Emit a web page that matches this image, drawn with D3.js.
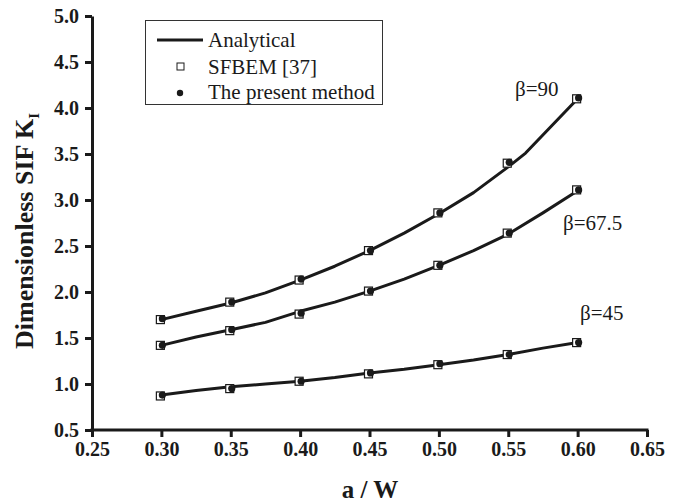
<!DOCTYPE html>
<html><head><meta charset="utf-8">
<script src="https://cdn.jsdelivr.net/npm/d3@7"></script>
<style>
html,body{margin:0;padding:0;background:#fff;}
svg text{font-family:"Liberation Serif","Times New Roman",serif;fill:#1a1a1a;}
</style></head>
<body>
<svg id="chart" width="685" height="504"></svg>
<script>
// ---- data ----
const xPoints = [0.30, 0.35, 0.40, 0.45, 0.50, 0.55, 0.60];
const sfbem90  = [1.70, 1.89, 2.13, 2.45, 2.86, 3.40, 4.10];
const sfbem675 = [1.42, 1.58, 1.76, 2.01, 2.29, 2.64, 3.11];
const sfbem45  = [0.87, 0.95, 1.03, 1.11, 1.21, 1.32, 1.45];
const present90  = [1.71, 1.89, 2.14, 2.45, 2.86, 3.41, 4.11];
const present675 = [1.42, 1.59, 1.77, 2.01, 2.29, 2.64, 3.11];
const present45  = [0.88, 0.95, 1.03, 1.12, 1.22, 1.32, 1.45];
const xAnalytical90 = [0.30, 0.325, 0.35, 0.375, 0.40, 0.425, 0.45, 0.475, 0.50, 0.525, 0.55, 0.5625, 0.60];
const analytical90  = [1.70, 1.79, 1.88, 1.99, 2.13, 2.28, 2.45, 2.64, 2.85, 3.08, 3.36, 3.51, 4.10];
const xAnalytical = [0.30, 0.325, 0.35, 0.375, 0.40, 0.425, 0.45, 0.475, 0.50, 0.525, 0.55, 0.575, 0.60];
const analytical675 = [1.42, 1.51, 1.59, 1.67, 1.79, 1.89, 2.01, 2.14, 2.29, 2.45, 2.63, 2.86, 3.10];
const analytical45  = [0.88, 0.93, 0.97, 1.00, 1.03, 1.07, 1.12, 1.16, 1.21, 1.26, 1.32, 1.39, 1.45];
const seriesLabels = ["β=90", "β=67.5", "β=45"];
const xTicks = [0.25, 0.30, 0.35, 0.40, 0.45, 0.50, 0.55, 0.60, 0.65];
const yTicks = [0.5, 1.0, 1.5, 2.0, 2.5, 3.0, 3.5, 4.0, 4.5, 5.0];
const legendLabels = ["Analytical", "SFBEM [37]", "The present method"];

// ---- layout ----
const FONT = "'Liberation Serif','Times New Roman',serif";
const svg = d3.select("#chart");
const x = d3.scaleLinear().domain([0.25, 0.65]).range([92, 647]);
const y = d3.scaleLinear().domain([0.5, 5.0]).range([430, 16]);

// axes
const xAxis = svg.append("g").attr("transform", "translate(0,430)")
  .call(d3.axisBottom(x).tickValues(xTicks).tickFormat(d3.format(".2f")).tickSize(7).tickSizeOuter(0));
const yAxis = svg.append("g").attr("transform", "translate(92,0)")
  .call(d3.axisLeft(y).tickValues(yTicks).tickFormat(d3.format(".1f")).tickSize(7).tickSizeOuter(0));
[xAxis, yAxis].forEach(g => {
  g.select(".domain").attr("stroke", "#1a1a1a").attr("stroke-width", 3);
  g.selectAll(".tick line").attr("stroke", "#1a1a1a").attr("stroke-width", 3);
  g.selectAll(".tick text").attr("font-family", FONT)
    .attr("font-size", 20).attr("font-weight", "bold").attr("fill", "#1a1a1a");
});
xAxis.selectAll(".tick text").attr("dy", "0.71em").attr("y", 12);
yAxis.selectAll(".tick text").attr("x", -13);
xAxis.select(".domain").attr("d", `M${92 - 1.5},0H${647 + 1.5}`);

// axis titles
svg.append("text").attr("x", 370).attr("y", 498).attr("text-anchor", "middle")
  .attr("font-family", FONT).attr("font-size", 25).attr("font-weight", "bold").text("a / W");
const yt = svg.append("text").attr("transform", "translate(33,231) rotate(-90)")
  .attr("text-anchor", "middle").attr("font-family", FONT).attr("font-size", 26).attr("font-weight", "bold");
yt.append("tspan").text("Dimensionless SIF K");
yt.append("tspan").attr("font-size", 15).attr("dy", 6).text("I");

// analytical lines
const line = d3.line().x(d => x(d[0])).y(d => y(d[1]));
const analyticalSets = [
  d3.zip(xAnalytical90, analytical90),
  d3.zip(xAnalytical, analytical675),
  d3.zip(xAnalytical, analytical45)
];
analyticalSets.forEach(s => {
  svg.append("path").attr("d", line(s)).attr("fill", "none")
    .attr("stroke", "#1a1a1a").attr("stroke-width", 3).attr("stroke-linejoin", "round");
});

// markers
const sfbemSets = [sfbem90, sfbem675, sfbem45];
const presentSets = [present90, present675, present45];
sfbemSets.forEach(vals => {
  svg.selectAll(null).data(d3.zip(xPoints, vals)).join("rect")
    .attr("x", d => x(d[0]) - 5).attr("y", d => y(d[1]) - 4)
    .attr("width", 8).attr("height", 8)
    .attr("fill", "#fff").attr("stroke", "#1a1a1a").attr("stroke-width", 1.2);
});
presentSets.forEach(vals => {
  svg.selectAll(null).data(d3.zip(xPoints, vals)).join("circle")
    .attr("cx", d => x(d[0]) + 1).attr("cy", d => y(d[1]))
    .attr("r", 3.6).attr("fill", "#1a1a1a");
});

// series labels
const labelPos = [[515, 96], [563, 230], [580, 320]];
seriesLabels.forEach((t, i) => {
  svg.append("text").attr("x", labelPos[i][0]).attr("y", labelPos[i][1])
    .attr("font-family", FONT).attr("font-size", 21).text(t);
});

// legend
const lg = svg.append("g");
lg.append("rect").attr("x", 145.5).attr("y", 20.5).attr("width", 237).attr("height", 84)
  .attr("fill", "#fff").attr("stroke", "#333").attr("stroke-width", 1);
lg.append("line").attr("x1", 157).attr("x2", 203).attr("y1", 40).attr("y2", 40)
  .attr("stroke", "#1a1a1a").attr("stroke-width", 3);
lg.append("rect").attr("x", 177).attr("y", 63).attr("width", 7).attr("height", 7)
  .attr("fill", "#fff").attr("stroke", "#1a1a1a").attr("stroke-width", 1);
lg.append("circle").attr("cx", 180).attr("cy", 93).attr("r", 3.2).attr("fill", "#1a1a1a");
const legY = [47, 74, 99];
legendLabels.forEach((t, i) => {
  lg.append("text").attr("x", 208).attr("y", legY[i]).attr("font-family", FONT).attr("font-size", 21).text(t);
});
</script>
</body></html>
